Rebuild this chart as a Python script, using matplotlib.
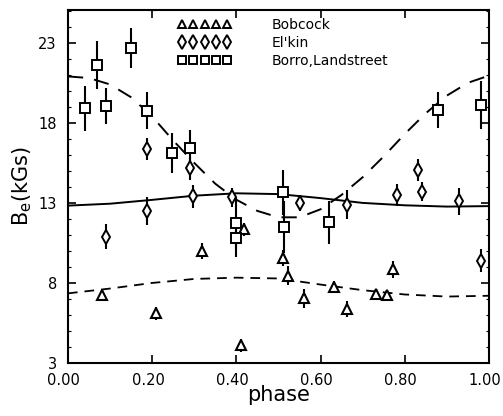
import matplotlib
matplotlib.use("Agg")
import matplotlib.pyplot as plt
import matplotlib.transforms as mtransforms
from matplotlib.lines import Line2D
from matplotlib.ticker import MultipleLocator

# Bobcock (triangles)
phase_bb = [0.080, 0.209, 0.318, 0.410, 0.419, 0.511, 0.522, 0.561, 0.633, 0.662, 0.731, 0.757, 0.771]
b_bb = [7.25, 6.1, 10.0, 4.1, 11.35, 9.55, 8.45, 7.05, 7.75, 6.4, 7.3, 7.25, 8.85]
err_bb = [0.3, 0.4, 0.5, 0.4, 0.4, 0.5, 0.6, 0.6, 0.35, 0.5, 0.3, 0.2, 0.55]

# El'kin (diamonds)
phase_el = [0.090, 0.188, 0.188, 0.290, 0.298, 0.389, 0.551, 0.662, 0.781, 0.831, 0.840, 0.929, 0.981]
b_el = [10.9, 12.5, 16.35, 15.15, 13.4, 13.35, 13.0, 12.9, 13.5, 15.05, 13.7, 13.1, 9.4]
err_el = [0.8, 0.85, 0.7, 0.7, 0.7, 0.6, 0.5, 0.9, 0.7, 0.7, 0.6, 0.85, 0.7]

# Borro, Landstreet (squares)
phase_bl = [0.040, 0.068, 0.090, 0.151, 0.187, 0.248, 0.290, 0.399, 0.399, 0.511, 0.513, 0.620, 0.880, 0.981]
b_bl = [18.9, 21.6, 19.05, 22.65, 18.75, 16.1, 16.45, 11.75, 10.8, 13.65, 11.5, 11.8, 18.8, 19.1]
err_bl = [1.4, 1.5, 1.1, 1.25, 1.15, 1.25, 1.1, 1.6, 1.2, 1.4, 1.6, 1.35, 1.15, 1.5]

# model curves
phase_fit = [0.0, 0.1, 0.2, 0.3, 0.4, 0.5, 0.6, 0.7, 0.8, 0.9, 1.0]
b_fit_el = [12.83, 12.95, 13.19, 13.45, 13.6, 13.55, 13.3, 13.0, 12.85, 12.77, 12.8]
b_fit_bb = [7.35, 7.65, 8.0, 8.25, 8.33, 8.28, 7.9, 7.55, 7.28, 7.15, 7.2]

phase_fit_bl = [0.00, 0.05, 0.10, 0.15, 0.20, 0.25, 0.30, 0.35, 0.40, 0.45, 0.50,
                0.55, 0.60, 0.65, 0.70, 0.75, 0.80, 0.85, 0.90, 0.95, 1.00]
b_fit_bl = [20.9, 20.8, 20.4, 19.6, 18.4, 16.9, 15.5, 14.2, 13.2, 12.5, 12.1,
            12.1, 12.6, 13.5, 14.6, 15.9, 17.3, 18.6, 19.7, 20.5, 20.95]

labels = ["Bobcock", "El'kin", "Borro,Landstreet"]
xtick_vals = [0.0, 0.2, 0.4, 0.6, 0.8, 1.0]
xtick_labels = ["0.00", "0.20", "0.40", "0.60", "0.80", "1.00"]
ytick_vals = [3, 8, 13, 18, 23]

plt.rcParams["lines.scale_dashes"] = False
fig = plt.figure(figsize=(5.03, 4.16), dpi=100)
ax = fig.add_axes([0.135, 0.1274, 0.837, 0.8486])

# curves
ax.plot(phase_fit, b_fit_el, color="black", lw=1.4)
ax.plot(phase_fit, b_fit_bb, color="black", lw=1.3, dashes=(7, 5))
ax.plot(phase_fit_bl, b_fit_bl, color="black", lw=1.4, dashes=(11, 8))

# data with error bars
ax.errorbar(phase_bb, b_bb, yerr=err_bb, fmt="^", ms=6.5, mfc="white", mec="black",
            mew=1.5, ecolor="black", elinewidth=1.5, capsize=0)
ax.errorbar(phase_el, b_el, yerr=err_el, fmt="d", ms=7.5, mfc="white", mec="black",
            mew=1.4, ecolor="black", elinewidth=1.5, capsize=0)
ax.errorbar(phase_bl, b_bl, yerr=err_bl, fmt="s", ms=7, mfc="white", mec="black",
            mew=1.4, ecolor="black", elinewidth=1.5, capsize=0)

handles = [Line2D([], [], ls="none", marker="^", ms=6, mfc="white", mec="black", mew=1.4),
           Line2D([], [], ls="none", marker="d", ms=7, mfc="white", mec="black", mew=1.4),
           Line2D([], [], ls="none", marker="s", ms=6, mfc="white", mec="black", mew=1.4)]
ax.legend(handles, labels, numpoints=5, handlelength=3.8, handletextpad=2.9,
          labelspacing=0.28, frameon=False, loc="upper left", borderpad=0,
          borderaxespad=0, bbox_to_anchor=(0.262, 0.977), fontsize=10)

ax.set_xlim(0, 1)
ax.set_ylim(3, 25.05)
ax.set_xticks(xtick_vals)
ax.set_xticklabels(xtick_labels)
ax.set_yticks(ytick_vals)
ax.yaxis.set_minor_locator(MultipleLocator(1))
ax.tick_params(which="major", direction="in", top=True, right=True, length=6,
               width=1.2, labelsize=10.5)
ax.tick_params(axis="x", pad=7)
ax.tick_params(axis="y", pad=8)
ax.tick_params(which="minor", direction="in", left=True, right=True, length=2.5, width=0.8)
for s in ax.spines.values():
    s.set_linewidth(1.5)

# nudge x tick labels a little left, as in the original
shift = mtransforms.ScaledTranslation(-4 / 100, 0, fig.dpi_scale_trans)
for lab in ax.get_xticklabels():
    lab.set_transform(lab.get_transform() + shift)

ax.set_xlabel("phase", fontsize=15, labelpad=-2)
ax.set_ylabel("B$_{\\rm e}$(kGs)", fontsize=15, labelpad=3)

fig.savefig("out.png", dpi=100)
